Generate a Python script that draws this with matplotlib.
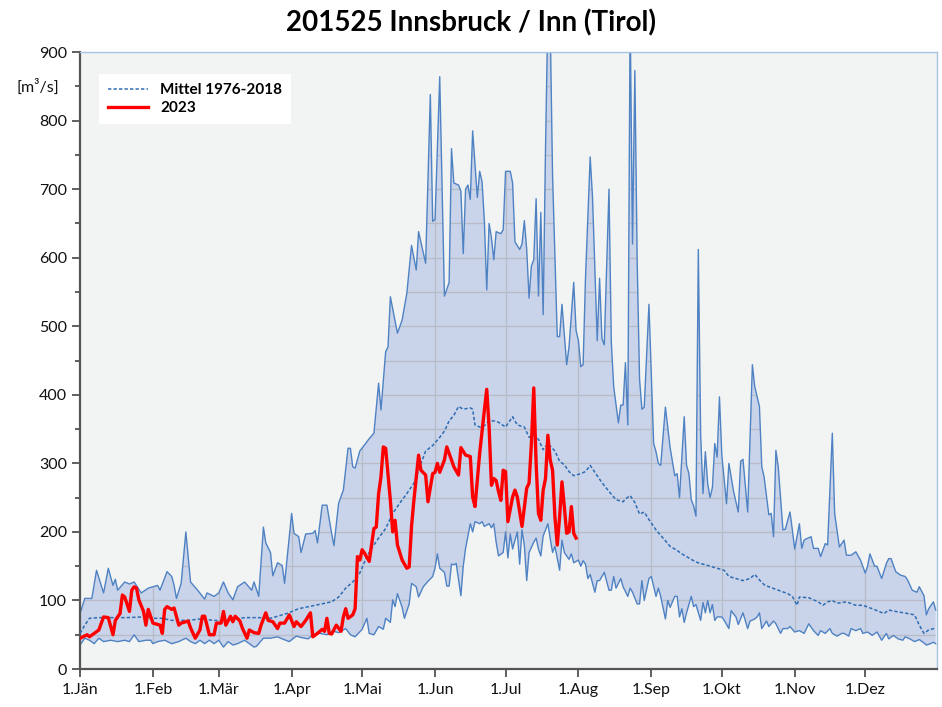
"""Abflussganglinie Innsbruck / Inn: Min-Max-Band, Mittel 1976-2018 und 2023."""

import matplotlib

matplotlib.use("Agg")
import matplotlib.pyplot as plt
from matplotlib.transforms import blended_transform_factory

plt.rcParams["font.family"] = ["Lato", "DejaVu Sans"]

# --- data (day of year, discharge m3/s) ---------------------------------------
max_day = [0, 2, 5, 7, 10, 12, 14, 15, 16, 19, 21, 23, 26, 29, 33, 34, 37, 39, 40,
           41, 43, 45, 47, 50, 53, 54, 57, 59, 61, 63, 65, 67, 70, 73, 74, 76, 78,
           79, 81, 82, 84, 86, 87, 90, 91, 93, 94, 96, 99, 100, 101, 103, 105, 107,
           108, 110, 112, 114, 115, 116, 117, 119, 123, 125, 127, 128, 130, 131,
           132, 135, 137, 139, 141, 143, 144, 147, 149, 150, 151, 153, 155, 157,
           158, 159, 161, 162, 163, 164, 165, 166, 167, 169, 170, 171, 172, 173,
           174, 175, 176, 177, 179, 180, 181, 183, 184, 185, 187, 188, 189, 190,
           191, 192, 193, 194, 195, 196, 197, 198, 199, 200, 201, 203, 204, 205,
           207, 208, 210, 211, 212, 213, 214, 215, 217, 218, 220, 221, 222, 223,
           225, 226, 227, 229, 230, 231, 232, 233, 234, 235, 236, 237, 238, 239,
           240, 242, 244, 245, 246, 247, 249, 251, 253, 254, 255, 257, 258, 259,
           260, 261, 262, 263, 264, 265, 266, 267, 268, 269, 270, 271, 272, 273,
           275, 276, 278, 280, 281, 282, 284, 286, 287, 289, 290, 291, 293, 294,
           295, 296, 297, 299, 300, 302, 303, 304, 306, 307, 308, 309, 311, 312,
           314, 315, 317, 318, 320, 321, 323, 325, 326, 328, 330, 332, 334, 335,
           336, 338, 339, 341, 343, 344, 345, 347, 349, 351, 352, 354, 356, 357,
           359, 360, 361, 362, 363, 364]
max_q = [81, 103, 103, 144, 111, 147, 122, 131, 115, 127, 124, 127, 111, 118, 122,
         115, 142, 135, 122, 103, 125, 200, 127, 115, 102, 111, 106, 111, 127, 111,
         101, 120, 127, 115, 127, 106, 207, 184, 170, 136, 155, 151, 125, 227, 198,
         193, 170, 197, 198, 202, 184, 239, 239, 198, 180, 242, 261, 322, 322, 295,
         293, 318, 336, 344, 417, 378, 463, 470, 543, 490, 509, 548, 618, 582, 638,
         592, 838, 653, 656, 864, 544, 564, 759, 709, 706, 697, 606, 700, 706, 685,
         785, 688, 726, 711, 653, 553, 650, 629, 597, 638, 635, 641, 726, 726, 709,
         623, 612, 620, 654, 612, 541, 588, 597, 686, 544, 666, 517, 760, 960, 940,
         720, 485, 485, 532, 444, 470, 564, 494, 479, 441, 444, 570, 747, 688, 479,
         570, 482, 473, 700, 476, 412, 359, 385, 385, 447, 356, 960, 620, 873, 594,
         423, 379, 382, 532, 329, 317, 300, 297, 382, 323, 282, 285, 250, 368, 297,
         285, 247, 238, 223, 612, 341, 256, 317, 270, 250, 265, 329, 309, 397, 312,
         241, 300, 259, 229, 303, 306, 229, 444, 412, 383, 295, 280, 225, 227, 193,
         319, 295, 203, 204, 229, 203, 175, 212, 176, 188, 190, 193, 176, 176, 164,
         183, 181, 344, 227, 178, 188, 166, 166, 171, 159, 140, 150, 168, 150, 150,
         132, 154, 161, 161, 142, 137, 135, 130, 115, 112, 120, 107, 79, 88, 93, 98,
         86]

min_day = [0, 2, 4, 6, 8, 10, 13, 16, 19, 21, 23, 25, 28, 30, 31, 33, 36, 39, 42,
           45, 47, 49, 51, 53, 55, 57, 59, 61, 63, 65, 67, 70, 72, 74, 75, 78, 81,
           84, 86, 89, 92, 94, 97, 99, 102, 105, 108, 110, 113, 115, 117, 120, 122,
           123, 125, 127, 129, 130, 132, 133, 134, 135, 137, 138, 140, 141, 143,
           144, 146, 148, 150, 151, 152, 153, 155, 156, 157, 158, 159, 160, 162,
           163, 164, 166, 167, 168, 170, 171, 172, 174, 175, 176, 177, 178, 180,
           181, 182, 183, 184, 186, 187, 188, 189, 190, 191, 193, 194, 195, 196,
           197, 199, 200, 201, 202, 204, 205, 206, 208, 209, 210, 212, 213, 214,
           215, 216, 217, 219, 220, 221, 223, 225, 226, 227, 228, 230, 231, 233,
           234, 235, 237, 238, 239, 240, 242, 243, 245, 246, 247, 249, 250, 251,
           253, 254, 255, 256, 257, 258, 260, 261, 262, 264, 265, 266, 267, 268,
           269, 270, 271, 273, 274, 276, 277, 279, 280, 282, 284, 285, 287, 288,
           289, 290, 292, 293, 295, 296, 298, 299, 301, 302, 304, 306, 308, 310,
           312, 314, 315, 317, 319, 320, 322, 324, 325, 327, 328, 330, 332, 333,
           335, 337, 339, 341, 343, 344, 346, 348, 350, 351, 353, 354, 355, 357,
           359, 360, 361, 363, 364]
min_q = [35, 45, 42, 37, 45, 40, 42, 40, 42, 40, 50, 40, 42, 42, 37, 40, 42, 37,
         40, 45, 40, 37, 42, 37, 42, 37, 42, 32, 40, 35, 37, 42, 37, 32, 33, 45, 45,
         47, 44, 40, 48, 46, 44, 50, 52, 50, 55, 53, 59, 50, 47, 58, 74, 52, 50, 62,
         58, 74, 68, 101, 91, 110, 90, 74, 95, 125, 120, 105, 120, 128, 135, 147,
         168, 147, 141, 121, 121, 153, 152, 154, 107, 150, 176, 212, 200, 215, 212,
         215, 208, 212, 206, 212, 185, 165, 170, 200, 162, 197, 175, 200, 153, 203,
         180, 129, 170, 185, 191, 175, 165, 194, 212, 190, 170, 179, 144, 188, 170,
         160, 168, 155, 159, 150, 158, 153, 132, 138, 112, 129, 129, 141, 115, 115,
         135, 118, 132, 120, 106, 118, 112, 95, 95, 129, 100, 132, 135, 106, 118,
         106, 73, 100, 90, 106, 106, 76, 88, 68, 82, 106, 91, 94, 71, 97, 82, 100,
         82, 94, 71, 76, 76, 71, 59, 85, 76, 65, 82, 59, 70, 73, 76, 82, 59, 70, 62,
         70, 66, 52, 59, 59, 62, 54, 56, 52, 66, 56, 49, 56, 52, 59, 52, 48, 52, 52,
         48, 59, 56, 59, 52, 54, 49, 54, 42, 52, 44, 49, 44, 42, 47, 44, 42, 40, 43,
         38, 35, 36, 39, 37]

mean_day = [0, 2, 4, 8, 14, 20, 27, 31, 35, 39, 46, 51, 57, 61, 65, 70, 76, 81, 88,
            93, 100, 107, 110, 113, 116, 119, 122, 124, 127, 130, 133, 136, 139,
            142, 144, 147, 150, 153, 155, 157, 159, 161, 163, 166, 167, 168, 170,
            172, 174, 176, 178, 181, 184, 186, 189, 191, 193, 195, 197, 199, 202,
            204, 206, 208, 210, 213, 215, 217, 219, 222, 225, 228, 231, 232, 234,
            236, 238, 240, 242, 245, 248, 251, 254, 256, 259, 262, 265, 268, 271,
            274, 276, 279, 282, 285, 287, 289, 291, 293, 297, 301, 303, 305, 306,
            310, 314, 316, 318, 320, 322, 326, 330, 333, 337, 342, 344, 347, 352,
            355, 357, 359, 361, 363, 364]
mean_q = [52, 64, 74, 75, 75, 75, 76, 74, 74, 71, 71, 73, 71, 70, 72, 75, 75, 74,
          81, 88, 93, 98, 105, 118, 127, 140, 164, 176, 191, 205, 227, 242, 256,
          271, 290, 318, 326, 338, 347, 362, 370, 383, 379, 381, 379, 356, 353, 355,
          362, 362, 360, 353, 368, 356, 353, 338, 341, 335, 320, 329, 318, 303, 298,
          288, 282, 285, 288, 297, 287, 272, 259, 247, 244, 248, 253, 243, 226, 229,
          218, 203, 191, 179, 173, 168, 162, 156, 153, 150, 147, 144, 135, 132, 129,
          132, 138, 130, 123, 120, 115, 110, 106, 93, 105, 104, 98, 93, 98, 100, 96,
          98, 93, 93, 88, 81, 86, 84, 81, 79, 64, 52, 57, 59, 57]

q23_day = [0, 3, 4, 6, 8, 10, 12, 14, 15, 17, 18, 19, 21, 22, 23, 24, 25, 27, 28,
           29, 31, 33, 34, 35, 36, 37, 39, 40, 42, 43, 45, 46, 47, 49, 51, 52, 53,
           55, 57, 58, 60, 61, 62, 64, 65, 66, 68, 69, 71, 72, 74, 76, 77, 79, 80,
           82, 84, 85, 87, 89, 91, 92, 94, 96, 98, 99, 101, 103, 104, 105, 106, 107,
           109, 111, 112, 113, 114, 116, 117, 118, 119, 120, 121, 123, 125, 126,
           127, 128, 129, 130, 132, 133, 134, 135, 137, 139, 140, 141, 142, 144,
           145, 147, 148, 150, 151, 152, 153, 155, 156, 158, 159, 161, 162, 164,
           166, 167, 168, 170, 172, 173, 174, 175, 176, 177, 178, 179, 180, 181,
           182, 184, 185, 186, 188, 190, 191, 192, 193, 194, 195, 196, 197, 198,
           199, 200, 201, 202, 203, 204, 205, 206, 207, 208, 209, 210, 211]
q23 = [45, 50, 47, 52, 57, 76, 75, 50, 71, 81, 108, 105, 84, 115, 120, 118, 101,
       84, 64, 87, 67, 65, 64, 52, 87, 91, 87, 89, 64, 67, 69, 70, 60, 45, 57, 77,
       77, 50, 50, 67, 67, 84, 64, 77, 69, 77, 70, 60, 45, 57, 53, 52, 64, 82, 71,
       69, 59, 67, 67, 79, 62, 69, 62, 71, 82, 47, 52, 58, 55, 74, 52, 51, 64, 55,
       76, 88, 74, 79, 88, 164, 159, 174, 169, 157, 205, 207, 256, 280, 324, 322,
       246, 200, 217, 181, 159, 147, 149, 208, 246, 312, 290, 283, 244, 285, 287,
       300, 287, 305, 324, 305, 295, 283, 323, 312, 310, 251, 237, 315, 378, 408,
       353, 268, 278, 275, 259, 246, 290, 288, 215, 251, 261, 251, 208, 264, 271,
       329, 410, 300, 227, 217, 261, 278, 341, 305, 290, 222, 181, 222, 273, 237,
       198, 200, 237, 198, 191]

month_start = [0, 31, 59, 90, 120, 151, 181, 212, 243, 273, 304, 334]
month_labels = ["1.Jän", "1.Feb", "1.Mär", "1.Apr", "1.Mai", "1.Jun", "1.Jul",
                "1.Aug", "1.Sep", "1.Okt", "1.Nov", "1.Dez"]

# --- plot ---------------------------------------------------------------------
fig = plt.figure(figsize=(9.42, 7.07), dpi=100)
ax = fig.add_axes([0.085, 0.0537, 0.9096, 0.8727])
ax.set_facecolor("#f2f4f3")

# min/max band: polygon along the max line, back along the min line
(band,) = ax.fill(max_day + min_day[::-1], max_q + min_q[::-1],
                  color="#c9d3ea", lw=0, zorder=1)

# grid only visible inside the band, as in the original
yt = list(range(50, 900, 50))
gl_h = ax.hlines(yt, 0, 365, colors="#b9bcc4", lw=0.9, zorder=1.5)
gl_v = ax.vlines(month_start[1:], 0, 900, colors="#b9bcc4", lw=0.9, zorder=1.5)
for g in (gl_h, gl_v):
    g.set_clip_path(band)

ax.plot(max_day, max_q, color="#4f82c3", lw=1.0, zorder=2)
ax.plot(min_day, min_q, color="#4f82c3", lw=1.0, zorder=2)
ax.plot(mean_day, mean_q, color="#2f6db3", lw=1.1, dashes=(2.2, 1.4), zorder=3,
        label="Mittel 1976-2018")
ax.plot(q23_day, q23, color="#ff0000", lw=2.4, zorder=4, label="2023")

ax.set_xlim(0, 364.5)
ax.set_ylim(0, 900)
ax.set_yticks(range(0, 901, 100))
ax.set_yticks(range(50, 900, 100), minor=True)
ax.set_xticks(month_start)
ax.set_xticklabels(month_labels)
ax.tick_params(axis="both", which="major", direction="out", length=6, width=1.2,
               color="#444444", labelsize=11.5, labelcolor="#111111")
ax.tick_params(axis="y", which="minor", direction="out", length=3.5, width=1.2,
               color="#444444")
ax.tick_params(axis="x", pad=4)

for side in ("left", "bottom"):
    ax.spines[side].set_color("#555555")
    ax.spines[side].set_linewidth(1.6)
for side in ("top", "right"):
    ax.spines[side].set_color("#a9c3e3")
    ax.spines[side].set_linewidth(1.0)

trans = blended_transform_factory(ax.transAxes, ax.transData)
ax.text(-0.049, 850, "[m³/s]", transform=trans, ha="center", va="center",
        fontsize=11.5, color="#111111")

leg = ax.legend(loc="upper left", bbox_to_anchor=(0.013, 0.977), frameon=True,
                fancybox=False, framealpha=1, facecolor="white", edgecolor="white",
                handlelength=2.6, borderpad=0.6, labelspacing=0.25,
                prop={"weight": "bold", "size": 11})
leg.get_frame().set_linewidth(0)

fig.text(0.5, 0.968, "201525 Innsbruck / Inn (Tirol)", ha="center", va="center",
         fontsize=20, fontweight="bold")

fig.savefig("out.png", dpi=100)
